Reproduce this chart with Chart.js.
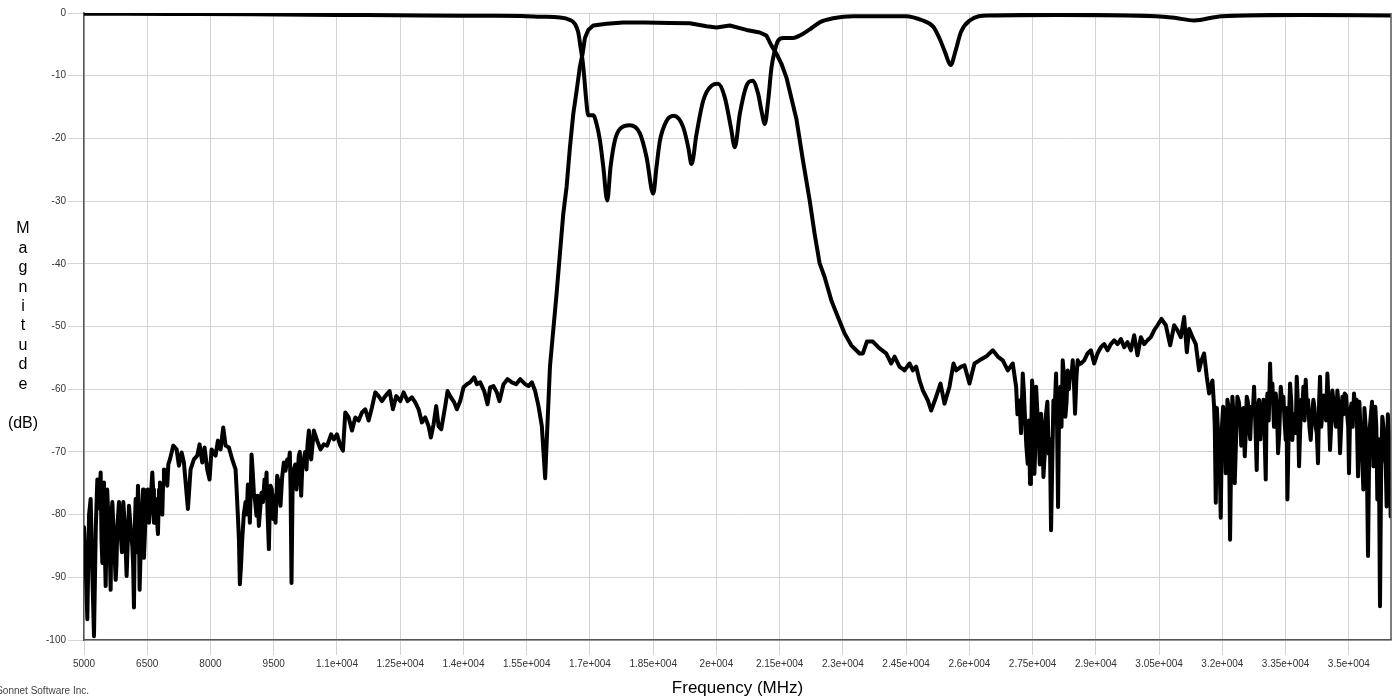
<!DOCTYPE html>
<html>
<head>
<meta charset="utf-8">
<script src="https://cdn.jsdelivr.net/npm/chart.js@4.4.0/dist/chart.umd.min.js"></script>
<style>
  body { margin: 0; background: #fff; }
  #chart-box { position: relative; width: 1395px; height: 696px; }
</style>
</head>
<body>
<div id="chart-box"><canvas id="myChart"></canvas></div>
<script>
// Axis ticks
const xTickValues = [5000, 6500, 8000, 9500, 11000, 12500, 14000, 15500, 17000, 18500, 20000, 21500, 23000,
  24500, 26000, 27500, 29000, 30500, 32000, 33500, 35000];
const xTickLabels = ["5000", "6500", "8000", "9500", "1.1e+004", "1.25e+004", "1.4e+004", "1.55e+004", "1.7e+004",
  "1.85e+004", "2e+004", "2.15e+004", "2.3e+004", "2.45e+004", "2.6e+004", "2.75e+004", "2.9e+004", "3.05e+004",
  "3.2e+004", "3.35e+004", "3.5e+004"];
const yTickValues = [0, -10, -20, -30, -40, -50, -60, -70, -80, -90, -100];

// Transmission trace (MHz / dB)
const s21Freq = [
  5000,5079,5158,5237,5316,5395,5435,5474,5514,5593, 5632,5672,5751,5790,5869,5932,6011,6067,6146,6185,
  6225,6280,6319,6383,6422,6477,6541,6620,6659,6699, 6754,6801,6857,6896,6975,7038,7117,7196,7252,7315,
  7370,7465,7528,7607,7686,7741,7805,7860,7923,7978, 8026,8121,8176,8239,8302,8358,8437,8516,8595,8650,
  8697,8753,8832,8887,8934,8974,9029,9092,9148,9211, 9282,9329,9385,9424,9487,9543,9582,9661,9740,9819,
  9882,9922,9977,10040,10096,10151,10214,10277,10333,10388, 10451,10530,10609,10688,10767,10862,10925,
  11000,11079,11142,11198,11277,11356,11435,11514,11593,11672, 11751,11830,11909,11988,12067,12146,12248,12327,12406,12501,
  12580,12675,12778,12857,12936,13015,13094,13173,13228,13291, 13354,13410,13473,13568,13623,13702,13781,13844,13923,14002,
  14081,14160,14255,14318,14397,14492,14571,14634,14713,14792, 14855,14950,15045,15148,15250,15345,15464,15543,15622,15701,
  15780,15859,15938,
  15973,16052,16131,16210,16289,16368,16447,16526,16605,16684, 16763,16826,16881,16960,17079,17395,17790,18300,18896,19370,
  19765,20002,20318,20713,21029,21187,21306,21424,21542,21661, 21900,
  22052,22210,22329,22447,22566,22724,22882,23040,23198,23395, 23474,23569,23711,23869,24027,24146,24225,24343,24462,24580,
  24659,24738,24817,24896,25015,25094,25212,25315,25410,25528, 25623,25686,25805,25884,26002,26121,26239,26397,26555,26674,
  26792,26911,27029,27108,27187,27266,27321,27384,27439,27487, 27542,27582,27645,27700,27756,27819,27882,27937,27993,28056,
  28103,28159,28214,28277,28332,28388,28451,28506,28569,
  28645,28724,28803,28882,28960,29039,29119,29198,29277,29356, 29435,29514,29593,29672,29751,29830,29909,29988,30067,30146,
  30225,30304,30383,30462,30556,30659,30762,30857,30936,31015, 31094,31157,31212,31291,31370,31449,31504,31567,31630,31686,
  31765,31804,31844,31899,31962,32018,32080,32120,32183,32238, 32294,32357,32420,32475,32531,32578,32634,32689,32752,32815,
  32871,32926,32974,33029,33069,33132,33187,33266,33321,33385, 33448,33503,33543,33606,33661,33716,33764,33819,33875,33922,
  33977,34033,34096,34159,34214,34269,34317,34372,34428,34491, 34554,34609,34665,34728,34791,34846,34902,34965,35004,35060,
  35123,35186,35218,35281,35344,35400,35455,35518,35581,35628, 35676,35739,35794,35850,35897,35952,35992
];
const s21Mag = [
  -82,-96.7,-77.5,-99.4,-74.4,-73.3,-87.7,-74.9,-91.4,-82.9, -92,-78,-90.4,-82,-83,-78,-89.8,-78.6,-85,-94.8,
  -77.5,-75.4,-92,-79,-86.9,-77.3,-81.3,-73.3,-81.3,-77.5, -83.1,-74.9,-80,-72.8,-75.4,-71.2,-69,-69.6,-72.2,-70.1,
  -71.7,-79.1,-72.8,-71.2,-70.6,-68.8,-71.7,-69.3,-72.8,-74.4, -69.6,-70.6,-68.2,-69.6,-66.1,-69,-69.3,-71.2,-72.8,-80.2,
  -91.1,-83.9,-78,-75.2,-81.3,-70.4,-76.5,-80.2,-81.8,-76.5, -74.4,-73.3,-85.5,-75.4,-80.7,-81.3,-73.8,-78.6,-71.7,-71.2,
  -70.1,-90.9,-72.8,-76,-70.6,-77,-71.2,-72.8,-66.6,-71.2, -66.6,-68.2,-69.6,-68.8,-69,-67.2,-68,
  -67.2,-69,-69.8,-63.7,-64.5,-66.6,-64.5,-65,-63.7,-63.2, -65,-62.9,-60.5,-61.1,-61.9,-61.1,-60.3,-63.2,-61.1,-61.9,
  -60.5,-61.9,-61.3,-62.1,-63.2,-65.3,-64.5,-65.9,-67.7,-65.6, -62.7,-65.9,-66.4,-62.7,-60.3,-61.3,-62.1,-63.2,-61.9,-59.7,
  -59.2,-58.9,-58.1,-59.2,-58.9,-60.3,-62.4,-59.7,-59.5,-60.5, -61.9,-59.2,-58.4,-58.9,-59.2,-58.4,-59.2,-59.5,-58.9,-60.3,
  -62.7,-65.9,-74.2,
  -68.6,-56.4,-50.5,-44.7,-38.3,-32,-27.7,-21.4,-16.1,-12.4, -8.5,-6.5,-4.0,-2.7,-2.0,-1.7,-1.5,-1.5,-1.6,-1.65,
  -2.1,-2.3,-2.0,-2.7,-3.1,-3.6,-5.2,-6.5,-8.1,-10.3, -17,
  -23.5,-29.8,-35.2,-39.9,-42.1,-45.8,-48.5,-51.1,-53,-54.3, -54.3,-52.4,-52.4,-53.5,-54.3,-55.9,-54.8,-56.4,-57,-55.9,
  -57,-56.4,-58.6,-60.2,-61.8,-63.4,-61.2,-59.1,-62.3,-59.6, -55.9,-57,-56.4,-56.2,-59.1,-55.9,-55.4,-54.8,-53.8,-54.8,
  -55.4,-57,-55.9,-59.6,-61.8,-57.5,-64.9,-71.9,-75.1,-58.6, -73.5,-59.6,-67,-63.9,-74,-63.9,-70.3,-82.5,-61.8,-57.5,
  -78.8,-59.6,-55.4,-64.4,-57,-57.5,-55.4,-63.9,-55.4,
  -55.9,-55.4,-54.3,-53.8,-55.9,-54.3,-53.3,-52.8,-53.8,-52.8, -52.2,-52.8,-52,-53.3,-52.5,-53.8,-51.4,-54.6,-51.7,-52.8,
  -52.2,-51.7,-50.6,-49.8,-48.8,-49.8,-53,-49.8,-50.6,-51.7, -48.5,-54.1,-50.4,-51.7,-52.8,-57,-55.4,-54.3,-58,-60.7,
  -58.6,-62.8,-78.1,-67,-80.5,-62.8,-73.4,-61.7,-84,-61.2, -75,-61.2,-63.9,-66.5,-70.7,-61.2,-66,-62.8,-59.6,-72.9,
  -61.7,-63.9,-61.7,-74.4,-60.7,-55.9,-59.1,-60.7,-70.2,-59.6, -61.2,-68.1,-77.6,-59.1,-68.1,-66,-58,-72.3,-61.7,-59.6,
  -58.5,-61.7,-68.1,-61.7,-66,-71.8,-58,-63.9,-63.3,-57.5, -69.7,-60.2,-64.4,-60.2,-70.2,-61.2,-60.7,-64.4,-73.4,-62.3,
  -60.7,-61.7,-73.9,-67,-76,-66,-86.6,-64.4,-72.3,-62.8, -77.6,-94.6,-64.4,-70.2,-78.7,-67.6,-80.3
];

// Extra noise readings in the dense parts of the transmission trace
const s21FreqDense = [
  5040,5120,5200,5280,5350,5415,5455,5495,5550,5612, 5652,5710,5770,5830,5900,5970,6040,6105,6165,6205,
  6250,6300,6350,6400,6450,6510,6580,6640,6680,6725, 6780,6830,6876,6935,7000,
  8620,8675,8725,8790,8860,8910,8955,9000,9060,9120, 9180,9245,9305,9355,9405,9455,9515,9560,9620,9700,
  9780,9850,9900,9950,10010,10070,10120,10180,10245,10300,
  27140,27225,27290,27350,27410,27460,27515,27560,27615,27670, 27730,27790,27850,27910,27965,28025,28080,28130,28185,28245,
  28305,28360,28420,28480,28540,28610,
  31820,31870,31930,31990,32050,32100,32150,32210,32265,32325, 32390,32448,32500,32555,32605,32660,32720,32785,32840,32900,
  32950,33000,33050,33100,33160,33225,33295,33350,33415,33475, 33520,33575,33635,33690,33740,33790,33848,33900,33950,34005,
  34065,34128,34185,34240,34295,34345,34400,34460,34520,34580, 34637,34695,34760,34818,34874,34935,34985,35030,35092,35155,
  35200,35250,35312,35370,35428,35487,35550,35600,35652,35710, 35766,35822,35875,35925,35970
];
const s21MagDense = [
  -88,-80,-90,-82,-79,-84,-78,-86,-76,-86, -80,-84,-88,-78,-86,-82,-84,-82,-88,-82,
  -86,-80,-84,-76,-82,-76,-78,-76,-78,-80, -76,-77,-75,-73,-72,
  -76,-84,-88,-80,-80,-77,-76,-73,-78,-77, -79,-78,-77,-80,-79,-76,-77,-78,-75,-74,
  -73,-72,-76,-74,-72,-73,-70,-72,-70,-69,
  -64,-67,-60,-69,-65,-70,-62,-70,-64,-72, -66,-70,-62,-68,-72,-63,-66,-62,-66,-58,
  -62,-60,-58,-59,-58,-56,
  -66,-63,-70,-66,-64,-69,-63,-70,-64,-68, -62,-69,-63,-67,-62,-68,-64,-66,-63,-68,
  -64,-67,-63,-65,-62,-66,-63,-67,-62,-65, -63,-66,-62,-64,-67,-62,-66,-63,-65,-63,
  -66,-64,-63,-67,-62,-66,-61,-65,-62,-66, -62,-66,-63,-66,-64,-61,-66,-64,-66,-64,
  -68,-62,-70,-63,-72,-67,-62,-70,-66,-68, -73,-66,-72,-64,-70
];

// Reflection trace (MHz / dB)
const s11Freq = [
  5000,7000,9000,11000,13000,14500,15500,15815,16289,16526, 16644,16723,16778,16826,16865,16905,16960,17079,17158,17237,
  17316,17411,17490,17593,17711,17948,18185,18343,18501,18580, 18659,18817,18991,19212,19331,19410,19528,19686,19883,20041,
  20200,20342,20436,20555,20713,20855,20990,21069,21148,21227, 21306,21385,21464,21582,21819,21977,22214,22451,22767,23241,
  24483,24896,25143,25308,25431,25555,25678,25802,26008,26462, 28110,30418,30900,31324,31984,33879,36000
];
const s11Mag = [
  -0.1,-0.15,-0.2,-0.3,-0.4,-0.45,-0.5,-0.6,-0.7,-1.1, -1.75,-3.1,-5.5,-7.6,-10.2,-13.4,-16.3,-16.3,-17.7,-20.3,
  -24.5,-29.9,-24.5,-20.3,-18.5,-17.9,-19.2,-23,-28.8,-24.5, -20.4,-17.2,-16.4,-18.2,-21.4,-24.1,-19.3,-14,-11.6,-11.3,
  -13.5,-18.2,-21.4,-16.1,-11.6,-10.8,-12.9,-15.6,-17.7,-14, -8.7,-6,-4.4,-4,-4,-3.6,-2.6,-1.5,-0.85,-0.5,
  -0.5,-1.2,-2.2,-4.3,-6.4,-8.3,-5.9,-3,-1.2,-0.4, -0.3,-0.5,-0.8,-1.2,-0.5,-0.3,-0.4
];

if (s21Freq.length !== s21Mag.length || s11Freq.length !== s11Mag.length || s21FreqDense.length !== s21MagDense.length) {
  throw new Error("length mismatch s21 " + s21Freq.length + "/" + s21Mag.length + " dense " + s21FreqDense.length + "/" +
    s21MagDense.length + " s11 " + s11Freq.length + "/" + s11Mag.length);
}

const yTitleLetters = ["M", "a", "g", "n", "i", "t", "u", "d", "e"];
const FONT = '"Liberation Sans", Arial, sans-serif';

function toPoints(fs, ms) {
  return fs.map((f, i) => ({ x: f, y: ms[i] }));
}

// both reading sets of the transmission trace, in frequency order
let s21Points = toPoints(s21Freq, s21Mag).concat(toPoints(s21FreqDense, s21MagDense));
s21Points.sort((a, b) => a.x - b.x);

// titles and right frame
const extraText = {
  id: 'extraText',
  afterDraw(chart) {
    const ctx = chart.ctx;
    const area = chart.chartArea;
    ctx.save();
    ctx.strokeStyle = '#555';
    ctx.lineWidth = 1.5;
    ctx.beginPath();
    ctx.moveTo(area.right, area.top);
    ctx.lineTo(area.right, area.bottom);
    ctx.stroke();

    ctx.fillStyle = '#000';
    ctx.font = '16px ' + FONT;
    ctx.textAlign = 'center';
    ctx.textBaseline = 'middle';
    yTitleLetters.forEach((ch, i) => ctx.fillText(ch, 23, 229 + i * 19.4));
    ctx.fillText("(dB)", 23, 424);

    ctx.fillStyle = '#444';
    ctx.font = '10px ' + FONT;
    ctx.textAlign = 'right';
    ctx.textBaseline = 'alphabetic';
    ctx.fillText("Sonnet Software Inc.", 89, 694);
    ctx.restore();
  }
};

const lineStyle = {
  borderColor: '#000',
  borderWidth: 4,
  pointRadius: 0,
  tension: 0,
  fill: false,
  borderJoinStyle: 'round',
  borderCapStyle: 'round'
};

var ctx = document.getElementById('myChart').getContext('2d');
var chart = new Chart(ctx, {
  type: 'line',
  data: {
    datasets: [
      Object.assign({}, lineStyle, { label: 'S11', data: toPoints(s11Freq, s11Mag), cubicInterpolationMode: 'monotone' }),
      Object.assign({}, lineStyle, { label: 'S21', data: s21Points })
    ]
  },
  options: {
    responsive: true,
    maintainAspectRatio: false,
    animation: false,
    layout: { padding: { left: 0, right: 4, top: 13, bottom: 0 } },
    plugins: { legend: { display: false }, tooltip: { enabled: false } },
    scales: {
      x: {
        type: 'linear',
        min: 5000,
        max: 36000,
        afterBuildTicks: s => { s.ticks = xTickValues.map(v => ({ value: v })); },
        afterFit: s => { s.height = 56; },
        ticks: {
          autoSkip: false, maxRotation: 0, padding: 3,
          color: '#333', font: { family: FONT, size: 10 },
          callback: (v, i) => xTickLabels[i]
        },
        grid: { color: '#d4d4d4', lineWidth: 1, tickLength: 15 },
        border: { color: '#555', width: 1.5 },
        title: {
          display: true, text: 'Frequency (MHz)', color: '#000',
          font: { family: FONT, size: 17, lineHeight: 1 }, padding: { top: 0, bottom: -1 }
        }
      },
      y: {
        min: -100,
        max: 0,
        afterBuildTicks: s => { s.ticks = yTickValues.map(v => ({ value: v })); },
        afterFit: s => { s.width = 84; },
        ticks: { padding: 2, color: '#333', font: { family: FONT, size: 10 } },
        grid: { color: '#d4d4d4', lineWidth: 1, tickLength: 16 },
        border: { color: '#555', width: 1.5 }
      }
    }
  },
  plugins: [extraText]
});
</script>
</body>
</html>
